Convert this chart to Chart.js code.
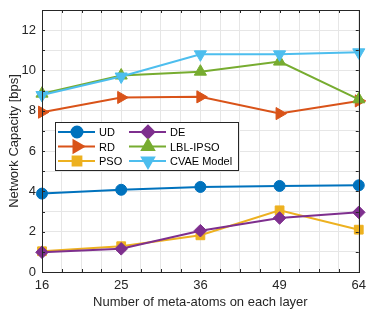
<!DOCTYPE html>
<html>
<head>
<meta charset="utf-8">
<script src="https://cdn.jsdelivr.net/npm/chart.js@4.4.1/dist/chart.umd.min.js"></script>
<style>
    html, body { margin: 0; padding: 0; background: #ffffff; }
    #wrap { width: 372px; height: 311px; position: relative; }
</style>
</head>
<body>
<div id="wrap"><canvas id="chart" width="372" height="311"></canvas></div>
<script>
// meta-atoms per layer (axis is spaced by sqrt of these)
const atoms = [16, 25, 36, 49, 64];

const seriesNames = ['UD', 'RD', 'PSO', 'DE', 'LBL-IPSO', 'CVAE Model'];
const udValues = [3.89, 4.08, 4.22, 4.27, 4.30];
const rdValues = [7.93, 8.66, 8.69, 7.86, 8.49];
const psoValues = [1.03, 1.28, 1.82, 3.06, 2.10];
const deValues = [0.98, 1.15, 2.05, 2.68, 2.96];
const lblValues = [8.85, 9.75, 9.94, 10.44, 8.57];
const cvaeValues = [8.78, 9.70, 10.80, 10.80, 10.90];

const yTicks = [0, 2, 4, 6, 8, 10, 12];

const FONT = '"Liberation Sans", Arial, Helvetica, sans-serif';
const INK = '#262626';

const styles = [
    { color: '#0072BD', point: 'circle', radius: 5.5, rotation: 0 },
    { color: '#D95319', point: 'triangle', radius: 7, rotation: 90 },
    { color: '#EDB120', point: 'rect', radius: 6.2, rotation: 0 },
    { color: '#7E2F8E', point: 'rectRot', radius: 6.3, rotation: 0 },
    { color: '#77AC30', point: 'triangle', radius: 7, rotation: 0 },
    { color: '#4DBEEE', point: 'triangle', radius: 7, rotation: 180 }
];
const allValues = [udValues, rdValues, psoValues, deValues, lblValues, cvaeValues];

const datasets = allValues.map((vals, i) => ({
    label: seriesNames[i],
    data: vals.map((v, k) => ({ x: Math.sqrt(atoms[k]), y: v })),
    borderColor: styles[i].color,
    backgroundColor: styles[i].color,
    borderWidth: 2,
    pointStyle: styles[i].point,
    pointRadius: styles[i].radius,
    pointRotation: styles[i].rotation,
    pointBorderWidth: 1,
    pointBorderColor: styles[i].color,
    pointBackgroundColor: styles[i].color,
    tension: 0,
    clip: false,
    order: allValues.length - i
}));

// box with inward ticks on all four sides
const boxPlugin = {
    id: 'box',
    afterDraw(chart) {
        const { ctx, chartArea: a, scales } = chart;
        ctx.save();
        ctx.strokeStyle = INK;
        ctx.lineWidth = 1;
        ctx.beginPath();
        scales.x.ticks.forEach(t => {
            const px = Math.round(scales.x.getPixelForValue(t.value)) + 0.5;
            ctx.moveTo(px, a.bottom); ctx.lineTo(px, a.bottom - 3);
            ctx.moveTo(px, a.top); ctx.lineTo(px, a.top + 3);
        });
        scales.y.ticks.forEach(t => {
            const py = Math.round(scales.y.getPixelForValue(t.value)) + 0.5;
            ctx.moveTo(a.left, py); ctx.lineTo(a.left + 3, py);
            ctx.moveTo(a.right, py); ctx.lineTo(a.right - 3, py);
        });
        ctx.stroke();
        ctx.strokeRect(Math.round(a.left) + 0.5, Math.round(a.top) + 0.5,
            Math.round(a.right - a.left), Math.round(a.bottom - a.top));
        ctx.restore();
    }
};

// two-column legend inside the axes
const legendPlugin = {
    id: 'boxLegend',
    afterDraw(chart) {
        const { ctx } = chart;
        const x0 = 55.5, y0 = 122.5, w = 183, h = 48;
        const rowY = [132, 146.5, 161];
        const colX = [58, 129];
        ctx.save();
        ctx.fillStyle = '#ffffff';
        ctx.fillRect(x0, y0, w, h);
        ctx.strokeStyle = INK;
        ctx.lineWidth = 1;
        ctx.strokeRect(x0, y0, w, h);
        ctx.font = '11px ' + FONT;
        ctx.textBaseline = 'middle';
        seriesNames.forEach((name, i) => {
            const col = Math.floor(i / 3);
            const row = i % 3;
            const lx = colX[col];
            const ly = rowY[row];
            const st = styles[i];
            ctx.strokeStyle = st.color;
            ctx.lineWidth = 2;
            ctx.beginPath();
            ctx.moveTo(lx, ly);
            ctx.lineTo(lx + 37, ly);
            ctx.stroke();
            ctx.fillStyle = st.color;
            if (Chart.helpers && Chart.helpers.drawPoint) {
                Chart.helpers.drawPoint(ctx, {
                    pointStyle: st.point, radius: st.radius, rotation: st.rotation,
                    borderWidth: 1
                }, lx + 19, ly);
            } else {
                ctx.beginPath();
                ctx.arc(lx + 19, ly, st.radius, 0, Math.PI * 2);
                ctx.fill();
            }
            ctx.fillStyle = '#000000';
            ctx.fillText(name, lx + 41, ly + 1);
        });
        ctx.restore();
    }
};

new Chart(document.getElementById('chart'), {
    type: 'line',
    data: { datasets: datasets },
    options: {
        responsive: false,
        animation: false,
        layout: { padding: { left: 0, top: 10, right: 10, bottom: 0 } },
        plugins: {
            legend: { display: false },
            tooltip: { enabled: false }
        },
        scales: {
            x: {
                type: 'linear',
                min: Math.sqrt(atoms[0]),
                max: Math.sqrt(atoms[atoms.length - 1]),
                afterFit: s => { s.height = 39; },
                ticks: {
                    stepSize: 0.25,
                    autoSkip: false,
                    maxRotation: 0,
                    padding: 6,
                    color: INK,
                    font: { family: FONT, size: 13 },
                    callback: v => {
                        const idx = atoms.indexOf(Math.round(v * v));
                        return Number.isInteger(v) && idx >= 0 ? String(atoms[idx]) : '';
                    }
                },
                grid: { color: '#e6e6e6', drawTicks: false, lineWidth: 1 },
                border: { display: false },
                title: {
                    display: true,
                    text: 'Number of meta-atoms on each layer',
                    color: INK,
                    font: { family: FONT, size: 13 },
                    padding: { top: 0, bottom: 1 }
                }
            },
            y: {
                min: 0,
                max: 13,
                afterFit: s => {
                    s.width = 42;
                    s.paddingTop = 0;
                    s.paddingBottom = 0;
                },
                ticks: {
                    stepSize: 1,
                    autoSkip: false,
                    padding: 6,
                    color: INK,
                    font: { family: FONT, size: 13 },
                    callback: v => yTicks.includes(v) ? String(v) : ''
                },
                grid: { color: '#e6e6e6', drawTicks: false, lineWidth: 1 },
                border: { display: false },
                title: {
                    display: true,
                    text: 'Network Capacity [bps]',
                    color: INK,
                    font: { family: FONT, size: 13 },
                    padding: { top: 7, bottom: 0 }
                }
            }
        }
    },
    plugins: [boxPlugin, legendPlugin]
});
</script>
</body>
</html>
